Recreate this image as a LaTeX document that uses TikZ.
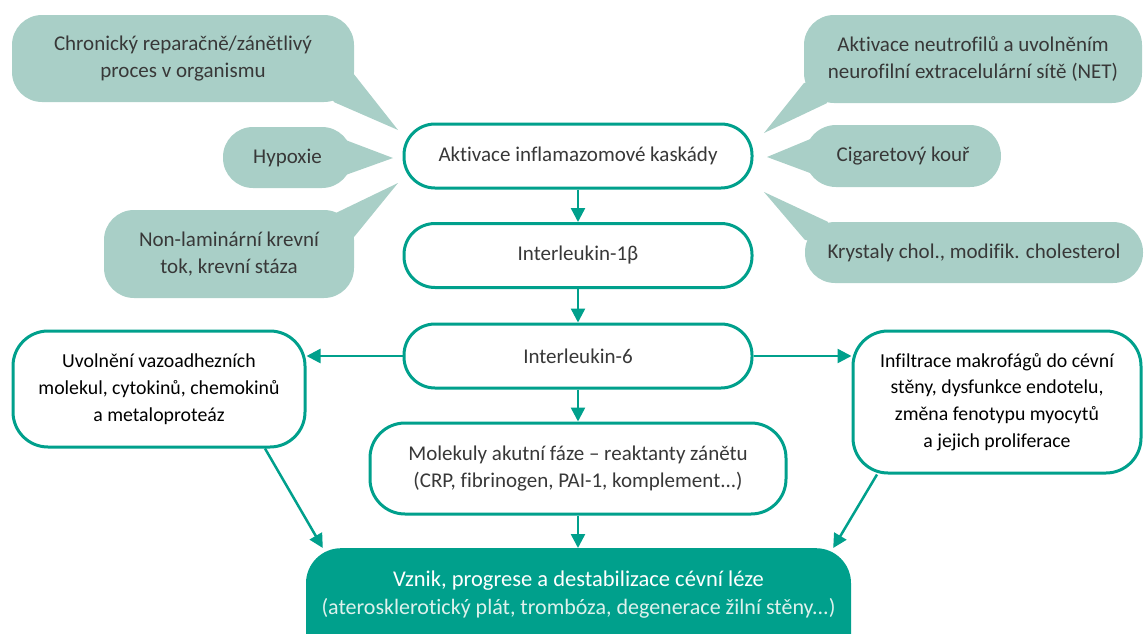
\documentclass[tikz,border=0pt]{standalone}
\usepackage{fontspec}
\setmainfont{Carlito}[Ligatures=CommonOff]
\usetikzlibrary{arrows.meta,calc,backgrounds}
\definecolor{tealline}{HTML}{00A08C}
\definecolor{bubblefill}{HTML}{A9CFC7}
\definecolor{textgray}{HTML}{383838}
\definecolor{paleline}{HTML}{DDF1EC}
\begin{document}
\begin{tikzpicture}[x=1pt,y=-1pt,
  txt/.style={align=center,text=textgray,font=\fontsize{21}{27}\selectfont},
  box/.style={txt,draw=tealline,line width=3pt,fill=white,rounded corners=31pt,minimum width=348pt,minimum height=64pt},
  sidebox/.style={box,rounded corners=35pt,text=black,font=\fontsize{19.8}{26.8}\selectfont},
  bubble/.style={txt,fill=bubblefill,rounded corners=30pt},
  tail/.style={fill=bubblefill},
  arr/.style={draw=tealline,line width=2.5pt,-{Triangle[length=14pt,width=14pt]}}]
\useasboundingbox (0,0) rectangle (1144,633);
% main chain
\node[box] (aktiv) at (578,156) {Aktivace inflamazomové kaskády};
\node[box] (il1) at (578,255.5) {Interleukin-1β};
\node[box] (il6) at (578,356) {Interleukin-6};
\node[box,rounded corners=35pt,minimum width=416pt,minimum height=91pt] (molek) at (578,468.5)
  {Molekuly akutní fáze – reaktanty zánětu\\(CRP, fibrinogen, PAI-1, komplement...)};
\node[anchor=north,inner sep=0pt,fill=tealline,rounded corners=35pt,text=white,font=\fontsize{22}{27.5}\selectfont] (lesion) at (578.5,548)
  {\parbox[c][130pt][t]{545pt}{\centering\vspace*{23pt}{\fontsize{22.5}{27}\selectfont Vznik, progrese a destabilizace cévní léze}\\
  {\color{paleline}(aterosklerotický plát, trombóza, degenerace žilní stěny...)}}};
% side boxes
\node[sidebox,minimum width=292pt,minimum height=116pt] (uvol) at (159,389)
  {Uvolnění vazoadhezních\\molekul, cytokinů, chemokinů\\a metaloproteáz};
\node[sidebox,minimum width=288pt,minimum height=142pt] (infil) at (997,402)
  {Infiltrace makrofágů do cévní\\stěny, dysfunkce endotelu,\\změna fenotypu myocytů\\a jejich proliferace};
% bubbles
\node[bubble,minimum width=342pt,minimum height=87pt] (chron) at (183,58.5) {Chronický reparačně/zánětlivý\\proces v organismu};
\node[bubble,minimum width=129pt,minimum height=61pt] (hypox) at (287.5,157.5) {Hypoxie};
\node[bubble,minimum width=250pt,minimum height=88pt] (nonlam) at (229,254) {Non-laminární krevní\\tok, krevní stáza};
\node[bubble,minimum width=338pt,minimum height=88pt] (neutr) at (973,59) {Aktivace neutrofilů a uvolněním\\neurofilní extracelulární sítě (NET)};
\node[bubble,minimum width=196pt,minimum height=62pt,rounded corners=31pt] (cigar) at (903,156) {Cigaretový kouř};
\node[bubble,minimum width=338pt,minimum height=61pt] (cryst) at (974,252.5) {Krystaly chol., modifik. cholesterol};
% tails (behind the bubbles)
\coordinate (tipchron) at (398,130);
\coordinate (tiphypox) at (393,158);
\coordinate (tipnonlam) at (398,183);
\coordinate (tipneutr) at (764,133);
\coordinate (tipcigar) at (767,157);
\coordinate (tipcryst) at (764,192);
\begin{pgfonlayer}{background}
\fill[tail] ($(chron.east)+(0,16)$) -- (tipchron) -- ($(chron.south east)+(-20,0)$) -- ($(chron.south east)+(-40,-30)$) -- cycle;
\fill[tail] ($(hypox.east)+(-8,-18)$) -- (tiphypox) -- ($(hypox.east)+(-8,18)$) -- cycle;
\fill[tail] ($(nonlam.north east)+(-18,3)$) -- (tipnonlam) -- ($(nonlam.north east)+(0,27)$) -- ($(nonlam.north east)+(-30,30)$) -- cycle;
\fill[tail] ($(neutr.south west)+(0,-20)$) -- (tipneutr) -- ($(neutr.south west)+(23,0)$) -- ($(neutr.south west)+(30,-30)$) -- cycle;
\fill[tail] ($(cigar.west)+(8,-18)$) -- (tipcigar) -- ($(cigar.west)+(8,18)$) -- cycle;
\fill[tail] ($(cryst.north west)+(23,0)$) -- (tipcryst) -- ($(cryst.north west)+(0,18)$) -- ($(cryst.north west)+(30,25)$) -- cycle;
\end{pgfonlayer}
% arrows
\draw[arr] (aktiv) -- (il1);
\draw[arr] (il1) -- (il6);
\draw[arr] (il6) -- (molek);
\draw[arr] (molek) -- (molek |- lesion.north);
\draw[arr] (il6.west) -- (il6.west -| uvol.east);
\draw[arr] (il6.east) -- (il6.east -| infil.west);
\draw[arr] ($(uvol.south)+(106,0)$) -- ($(lesion.north west)+(17,0)$);
\draw[arr] ($(infil.south)+(-120,0)$) -- ($(lesion.north east)+(-18,0)$);
\end{tikzpicture}
\end{document}
